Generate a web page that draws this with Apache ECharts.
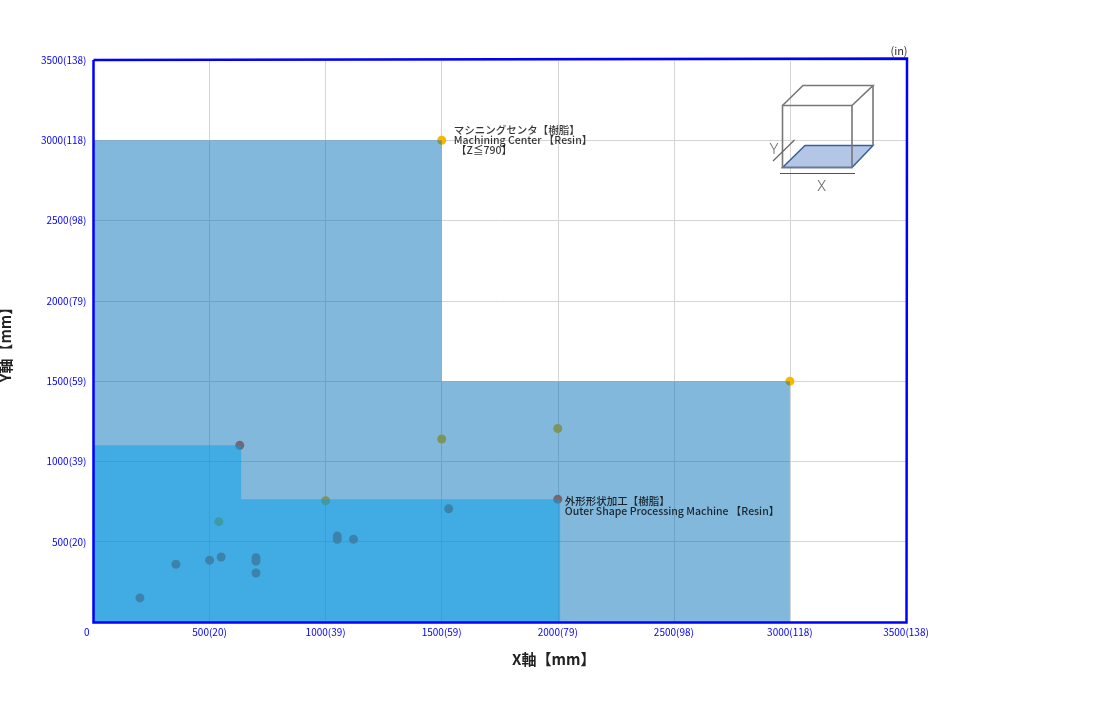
<!DOCTYPE html>
<html>
<head>
<meta charset="utf-8">
<style>
  html, body { margin: 0; padding: 0; background: #fff; }
  #chart { width: 1100px; height: 720px; }
</style>
<script src="https://cdn.jsdelivr.net/npm/echarts@6/dist/echarts.min.js"></script>
</head>
<body>
<div id="chart"></div>
<script>
// tick labels, mm(in)
const xTickLabels = { 0: '{zero|0}', 500: '500(20)', 1000: '1000(39)', 1500: '1500(59)', 2000: '2000(79)', 2500: '2500(98)', 3000: '3000(118)', 3500: '3500(138)' }
const yTickLabels = { 500: '500(20)', 1000: '1000(39)', 1500: '1500(59)', 2000: '2000(79)', 2500: '2500(98)', 3000: '3000(118)', 3500: '3500(138)' }

// working ranges, outlines of the two machines
const machiningRange = [[0, 3000], [1500, 3000], [1500, 1500], [3000, 1500], [3000, 0]]
const outerShapeRange = [[0, 1100], [636, 1100], [636, 765], [2010, 765], [2010, 0]]

// product points
const yellowPoints = [[1500, 3000], [3000, 1500], [1500, 1140], [2000, 1205], [540, 625], [1000, 755]]
const redPoints = [[630, 1100], [2000, 765], [1530, 705], [200, 150], [355, 360], [500, 385], [550, 405],
  [700, 400], [700, 380], [700, 305], [1050, 535], [1050, 515], [1120, 515]]

// notes next to the ranges
const machiningNote = { at: [1500, 3000], text: 'マシニングセンタ【樹脂】\nMachining Center 【Resin】\n 【Z≦790】' }
const outerShapeNote = { at: [2000, 765], text: '外形形状加工【樹脂】\nOuter Shape Processing Machine 【Resin】' }

const FONT = '"Noto Sans CJK JP", "Noto Sans", sans-serif'

let chart = echarts.init(document.getElementById('chart'))

function noteSeries(note, offset) {
  return {
    type: 'scatter',
    symbolSize: 0,
    z: 10,
    silent: true,
    data: [note.at],
    label: {
      show: true,
      position: 'right',
      offset: offset,
      formatter: note.text,
      align: 'left',
      fontFamily: FONT,
      fontSize: 10.5,
      fontWeight: 500,
      lineHeight: 10,
      color: '#000'
    }
  }
}

// box sketch top right, the frame around the plot
let graphic = [
  { type: 'polyline', z: 20, shape: { points: [[93.5, 60], [907, 58.5], [906.5, 622.5], [93.5, 622.5], [93.5, 60]] }, style: { stroke: '#0000ff', lineWidth: 2.5, fill: null } },
  { type: 'polygon', z: 20, shape: { points: [[782.5, 167.5], [805, 145.5], [873, 145.5], [852, 167.5]] }, style: { fill: '#b3c6e5', stroke: '#3a5f9e', lineWidth: 1.5 } },
  { type: 'polygon', z: 20, shape: { points: [[782.5, 105.5], [852, 105.5], [852, 167.5], [782.5, 167.5]] }, style: { fill: null, stroke: '#777', lineWidth: 1.6 } },
  { type: 'polyline', z: 20, shape: { points: [[782.5, 105.5], [803, 85.5], [873, 85.5], [852, 105.5]] }, style: { fill: null, stroke: '#777', lineWidth: 1.6 } },
  { type: 'line', z: 20, shape: { x1: 873, y1: 85.5, x2: 873, y2: 145.5 }, style: { stroke: '#777', lineWidth: 1.6 } },
  { type: 'line', z: 20, shape: { x1: 773, y1: 161, x2: 794.5, y2: 140 }, style: { stroke: '#666', lineWidth: 1.2 } },
  { type: 'line', z: 20, shape: { x1: 780, y1: 173.5, x2: 855, y2: 173.5 }, style: { stroke: '#555', lineWidth: 1 } },
  { type: 'text', z: 20, style: { x: 821.5, y: 187.5, text: 'X', align: 'center', verticalAlign: 'middle', fill: '#666', font: '300 15px Roboto' } },
  { type: 'text', z: 20, style: { x: 774, y: 150.5, text: 'Y', align: 'center', verticalAlign: 'middle', fill: '#666', font: '300 15px Roboto' } },
  { type: 'text', z: 20, style: { x: 899, y: 51, text: '(in)', align: 'center', verticalAlign: 'middle', fill: '#333', font: '11px "Noto Sans CJK JP"' } }
]

let option = {
  animation: false,
  backgroundColor: '#fff',
  grid: { left: 93.5, right: 194, top: 60, bottom: 98, outerBoundsMode: 'none' },
  xAxis: {
    type: 'value',
    min: 0,
    max: 3500,
    interval: 500,
    name: 'X軸【mm】',
    nameLocation: 'middle',
    nameGap: 30,
    nameTextStyle: { color: '#222', fontSize: 15, fontWeight: 'bold', fontFamily: FONT, padding: [0, 0, 0, 108] },
    axisLine: { show: false },
    axisTick: { show: false },
    axisLabel: {
      color: '#0000ff',
      fontSize: 10,
      margin: 5,
      fontFamily: FONT,
      showMinLabel: true,
      showMaxLabel: true,
      alignMinLabel: 'right',
      rich: { zero: { color: '#0000ff', fontSize: 10, fontFamily: FONT, padding: [0, 4, 0, 0] } },
      formatter: v => xTickLabels[v]
    },
    splitLine: { lineStyle: { color: '#d4d4d4', width: 1 } }
  },
  yAxis: {
    type: 'value',
    min: 0,
    max: 3500,
    interval: 500,
    name: 'Y軸【mm】',
    nameLocation: 'middle',
    nameGap: 81,
    nameRotate: 90,
    nameTextStyle: { color: '#222', fontSize: 15, fontWeight: 'bold', fontFamily: FONT },
    axisLine: { show: false },
    axisTick: { show: false },
    axisLabel: {
      color: '#0000ff',
      fontSize: 10,
      margin: 7,
      fontFamily: FONT,
      showMaxLabel: true,
      formatter: v => yTickLabels[v] || ''
    },
    splitLine: { lineStyle: { color: '#d4d4d4', width: 1 } }
  },
  series: [
    { type: 'scatter', z: 2, symbolSize: 9, silent: true, itemStyle: { color: '#f5b800', opacity: 1 }, data: yellowPoints },
    { type: 'scatter', z: 2, symbolSize: 9, silent: true, itemStyle: { color: '#e85a20', opacity: 1 }, data: redPoints },
    {
      type: 'line', z: 3, showSymbol: false, silent: true, data: machiningRange,
      lineStyle: { width: 0 }, areaStyle: { color: '#0571b9', opacity: 0.5 }
    },
    {
      type: 'line', z: 4, showSymbol: false, silent: true, data: outerShapeRange,
      lineStyle: { width: 0 }, areaStyle: { color: '#00a0e9', opacity: 0.5 }
    },
    noteSeries(machiningNote, [7, 0]),
    noteSeries(outerShapeNote, [2, 7])
  ],
  graphic: graphic
}
chart.setOption(option)
</script>
</body>
</html>
